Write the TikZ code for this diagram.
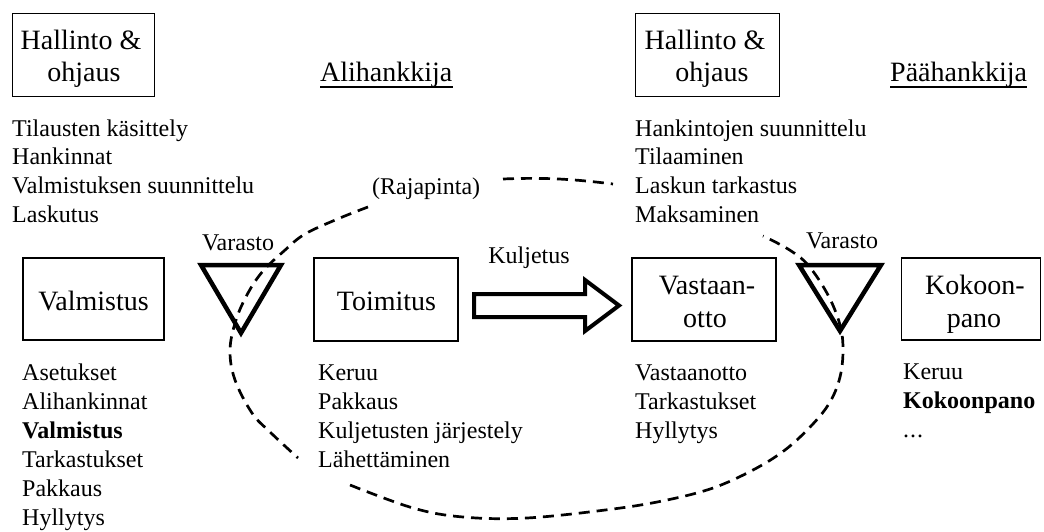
\documentclass[tikz,border=0pt]{standalone}
\usepackage{fontspec}
\setmainfont{Liberation Serif}
\begin{document}
\begin{tikzpicture}[x=1pt,y=-1pt,
  box/.style={draw, line width=1.8pt, inner sep=0pt},
  boxtext/.style={anchor=base, inner sep=0pt, font=\fontsize{28}{32}\selectfont},
  heading/.style={anchor=base west, inner sep=0pt, font=\fontsize{28}{32}\selectfont},
  item/.style={anchor=base west, inner sep=0pt, font=\fontsize{24}{29}\selectfont},
  small/.style={anchor=base, inner sep=0pt, font=\fontsize{24}{29}\selectfont},
  store/.style={line width=4.5pt, line join=miter},
  flow/.style={line width=4pt, line join=miter},
  interface/.style={line width=2.7pt, dash pattern=on 11pt off 7pt},
]
\useasboundingbox (0,0) rectangle (1044,532);

% management boxes
\node[box, minimum width=142pt, minimum height=83pt] (hallA) at (83.5,55) {};
\node[boxtext] (hallAt1) at (81,50) {Hallinto \&};
\node[boxtext] (hallAt2) at (84,82) {ohjaus};
\node[box, minimum width=144pt, minimum height=83pt] (hallB) at (707.5,55) {};
\node[boxtext] (hallBt1) at (705,50) {Hallinto \&};
\node[boxtext] (hallBt2) at (712,82) {ohjaus};

% party headings
\node[heading] (ali) at (320,82) {Alihankkija};
\draw[line width=1.6pt] ([yshift=-5pt]ali.base west) -- ([yshift=-5pt]ali.base east);
\node[heading] (paa) at (890,82) {Päähankkija};
\draw[line width=1.6pt] ([yshift=-5pt]paa.base west) -- ([yshift=-5pt]paa.base east);

% management tasks
\foreach \t [count=\i from 0] in {Tilausten käsittely, Hankinnat, Valmistuksen suunnittelu, Laskutus}
  \node[item] (ta\i) at (12,{136+28.7*\i}) {\t};
\foreach \t [count=\i from 0] in {Hankintojen suunnittelu, Tilaaminen, Laskun tarkastus, Maksaminen}
  \node[item] (tb\i) at (635,{136+28.7*\i}) {\t};

\node[small, anchor=base west] (raja) at (372,194) {(Rajapinta)};

% process boxes
\node[box, minimum width=141pt, minimum height=82pt] (valm) at (93.5,299) {};
\node[boxtext] (valmt) at (93.5,310.5) {Valmistus};
\node[box, minimum width=144pt, minimum height=83pt] (toim) at (386,299.5) {};
\node[boxtext] (toimt) at (386.5,310.5) {Toimitus};
\node[box, minimum width=144pt, minimum height=83pt] (vast) at (704,299.5) {};
\node[boxtext] (vastt1) at (707,294) {Vastaan-};
\node[boxtext] (vastt2) at (705,327) {otto};
\node[box, minimum width=139pt, minimum height=82pt] (koko) at (971,299) {};
\node[boxtext] (kokot1) at (975,294) {Kokoon-};
\node[boxtext] (kokot2) at (974,327) {pano};

% stores
\draw[store] (201,265) -- (281,265) -- (241,333) -- cycle;
\node[small] (varA) at (238,250) {Varasto};
\draw[store] (799,265) -- (881,265) -- (840,331) -- cycle;
\node[small] (varB) at (842,248) {Varasto};

% transport arrow
\draw[flow] (474,294) -- (585,294) -- (585,280) -- (619,305.5) -- (585,331) -- (585,317) -- (474,317) -- cycle;
\node[small] (kul) at (529,263) {Kuljetus};

% process tasks
\foreach \t [count=\i from 0] in {Asetukset, Alihankinnat, \textbf{Valmistus}, Tarkastukset, Pakkaus, Hyllytys}
  \node[item] (pa\i) at (22,{380+29*\i}) {\t};
\foreach \t [count=\i from 0] in {Keruu, Pakkaus, Kuljetusten järjestely, Lähettäminen}
  \node[item] (pb\i) at (318,{380+29*\i}) {\t};
\foreach \t [count=\i from 0] in {Vastaanotto, Tarkastukset, Hyllytys}
  \node[item] (pc\i) at (635,{380+29*\i}) {\t};
\node[item] (pd0) at (903,379) {Keruu};
\node[item] (pd1) at (903,408) {\textbf{Kokoonpano}};
\node[item] (pd2) at (903,437) {.\kern1pt.\kern1pt.};

% interface boundary
\draw[interface] plot[smooth, tension=0.6] coordinates {
  (368,207) (340,218) (305,234) (284,251) (263,271) (248,293) (236,320)
  (230,350) (235,380) (252,413) (270,432) (298,458)};
\draw[interface] plot[smooth, tension=0.6] coordinates {
  (350,485) (413,508) (463,517) (527,518) (613,509) (667,500) (713,488)
  (753,470) (785,450) (812,425) (830,402) (840,377) (843,350) (840,325)
  (828,295) (808,265) (788,249) (763,236)};
\draw[interface] (503,179) .. controls (550,177) and (580,180) .. (613,184);
\end{tikzpicture}
\end{document}
